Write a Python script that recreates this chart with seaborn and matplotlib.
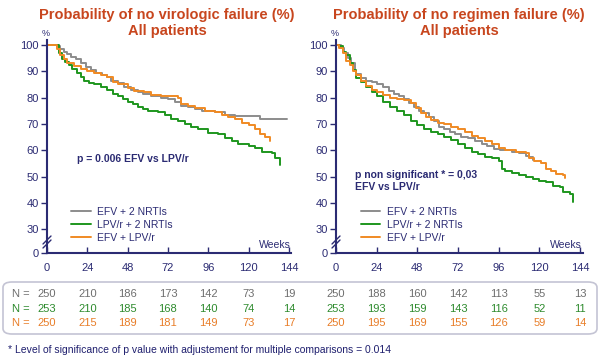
import numpy as np
import pandas as pd
import matplotlib
matplotlib.use('Agg')
import matplotlib.pyplot as plt
import matplotlib.transforms as mtransforms
from matplotlib.patches import FancyBboxPatch
from matplotlib.lines import Line2D
import seaborn as sns

sns.set_theme(style='white')
plt.rcParams['font.family'] = ['Liberation Sans', 'DejaVu Sans']

# Kaplan-Meier step curves (weeks, % surviving)
vir_efv_t = [0, 6, 8, 10, 12, 14, 17, 20, 23, 26, 29, 33, 36, 38, 42, 46, 50, 54, 57, 62, 68, 72, 76, 80, 84, 88, 92, 100, 106, 112, 127, 143]
vir_efv_s = [100, 99.5, 98.5, 97.5, 96.5, 95.5, 94.5, 93, 91.5, 90.5, 89.5, 88.5, 88, 86.5, 85.5, 84, 83, 82, 81.5, 80.5, 80, 79.5, 78.5, 77, 76.5, 75.5, 75, 74.5, 73.5, 73, 72, 72]
vir_lpv_t = [0, 7, 9, 11, 13, 15, 18, 20, 22, 25, 28, 32, 36, 39, 42, 45, 48, 51, 54, 57, 60, 66, 70, 74, 78, 82, 86, 90, 96, 102, 106, 110, 114, 120, 124, 128, 134, 136, 139]
vir_lpv_s = [100, 97, 94.5, 93.5, 92.5, 91, 89.5, 88, 86.5, 85.5, 85, 84, 83, 81.5, 80.5, 79.5, 78.5, 77.5, 76.5, 75.5, 75, 74.5, 73.5, 72, 71, 70, 69, 68, 66.5, 66, 64.5, 63.5, 62.5, 61.5, 61, 59.5, 59, 57, 54.5]
vir_both_t = [0, 6, 8, 10, 12, 16, 20, 24, 28, 32, 36, 39, 42, 48, 52, 58, 62, 68, 78, 80, 84, 88, 94, 100, 104, 108, 112, 116, 120, 124, 127, 130, 133]
vir_both_s = [100, 98.5, 96, 94.5, 93, 92, 91, 90, 89.5, 88.5, 88, 86, 85, 83.5, 82.5, 82, 81, 80.5, 80, 77.5, 77, 76, 75, 74.5, 73.5, 72.5, 72, 70.5, 69.5, 68, 66, 65, 63.5]

reg_efv_t = [0, 3, 5, 7, 9, 11, 12, 15, 18, 21, 24, 28, 31, 34, 37, 40, 43, 46, 49, 52, 55, 58, 61, 64, 67, 70, 74, 78, 82, 86, 89, 93, 97, 104, 108, 112, 114, 116]
reg_efv_s = [100, 99, 97, 95, 93, 90, 89, 87.5, 86.5, 86, 85, 84, 82.5, 81.5, 80.5, 79.5, 78, 76.5, 75, 74, 72.5, 71, 69, 68, 67, 66, 65, 64.5, 63.5, 62.5, 61.5, 60.5, 60, 59.5, 59, 58, 57.5, 56.5]
reg_lpv_t = [0, 2, 4, 6, 8, 10, 12, 15, 18, 21, 24, 28, 32, 36, 40, 44, 48, 52, 56, 60, 64, 68, 72, 76, 80, 84, 88, 92, 96, 98, 100, 104, 108, 112, 116, 120, 124, 128, 132, 134, 138, 140]
reg_lpv_s = [100, 99.5, 97.5, 96, 93, 90.5, 87.5, 86, 84, 82, 80.5, 78.5, 76.5, 75, 73.5, 71, 69.5, 68, 67, 66, 65, 64, 62.5, 61, 59.5, 58.5, 57.5, 57, 56, 53, 52, 51.5, 50.5, 50, 49, 48.5, 48, 46.5, 46, 44, 43.5, 40.5]
reg_both_t = [0, 2, 4, 6, 8, 10, 12, 15, 18, 21, 24, 28, 32, 36, 40, 44, 47, 50, 53, 56, 60, 64, 68, 72, 76, 80, 84, 88, 92, 96, 100, 106, 112, 114, 117, 121, 124, 127, 130, 134, 135]
reg_both_s = [100, 99, 97, 94, 92.5, 90, 88.5, 86.5, 84.5, 83, 82, 81, 80, 79.5, 79, 78, 76, 74, 72.5, 71.5, 70.5, 70, 69, 68, 67, 65.5, 64.5, 63.5, 62.5, 61, 60, 59.5, 59, 57, 56, 55, 53, 52, 51, 50.5, 49.5]

groups = ['EFV + 2 NRTIs', 'LPV/r + 2 NRTIs', 'EFV + LPV/r']
colors = ['#8c8c8c', '#1e961e', '#f08a24']
text_colors = ['#6e6e6e', '#2e8b2e', '#e87d28']

weeks = [0, 24, 48, 72, 96, 120, 144]
n_vir = [[250, 210, 186, 173, 142, 73, 19],
         [253, 210, 185, 168, 140, 74, 14],
         [250, 215, 189, 181, 149, 73, 17]]
n_reg = [[250, 188, 160, 142, 113, 55, 13],
         [253, 193, 159, 143, 116, 52, 11],
         [250, 195, 169, 155, 126, 59, 14]]

titles = [('Probability of no virologic failure (%)', 'All patients'),
          ('Probability of no regimen failure (%)', 'All patients')]

navy = '#2b2b73'
title_col = '#c8461e'

fig = plt.figure(figsize=(6, 3.64), dpi=100)
W, H = 600, 364

def px(x0, y0, w, h):
    return [x0 / W, 1 - (y0 + h) / H, w / W, h / H]

ax1 = fig.add_axes(px(47, 39.7, 244.4, 213.3))
ax2 = fig.add_axes(px(336, 39.7, 246.5, 213.3))

panels = [
    (ax1, [(vir_efv_t, vir_efv_s), (vir_lpv_t, vir_lpv_s), (vir_both_t, vir_both_s)], n_vir, titles[0], 167),
    (ax2, [(reg_efv_t, reg_efv_s), (reg_lpv_t, reg_lpv_s), (reg_both_t, reg_both_s)], n_reg, titles[1], 459),
]

for ax, curves, ntab, title, tx in panels:
    for (t, s), g, c in zip(curves, groups, colors):
        df = pd.DataFrame({'week': t, 'surv': s})
        sns.lineplot(data=df, x='week', y='surv', drawstyle='steps-post', estimator=None,
                     color=c, linewidth=1.4, label=g, ax=ax)
    ax.set_xlim(0, 145.5)
    ax.set_ylim(21, 102)
    ax.set_xticks(weeks)
    ax.set_yticks([21, 30, 40, 50, 60, 70, 80, 90, 100])
    ax.set_yticklabels(['0', '30', '40', '50', '60', '70', '80', '90', '100'])
    ax.set_xlabel('')
    ax.set_ylabel('')
    for sp in ['top', 'right']:
        ax.spines[sp].set_visible(False)
    for sp in ['left', 'bottom']:
        ax.spines[sp].set_color(navy)
        ax.spines[sp].set_linewidth(1.5)
    ax.tick_params(axis='y', direction='out', length=4, width=1, color=navy,
                   labelcolor=navy, labelsize=8, pad=2, left=True)
    ax.tick_params(axis='x', direction='in', length=4, width=1, color=navy,
                   labelcolor=navy, labelsize=8, pad=7.5, bottom=True)
    ax.set_facecolor('none')
    ax.grid(False)

    leg = ax.legend(loc='upper left', bbox_to_anchor=(0.1, 0.218), frameon=False,
                    fontsize=7.5, handlelength=1.9, handletextpad=0.6,
                    labelspacing=0.3, borderpad=0, borderaxespad=0)
    for txt in leg.get_texts():
        txt.set_color(navy)

    ax.text(145, 24.2, 'Weeks', ha='right', va='center', fontsize=7.5, color=navy)
    ax.text(-1, 104.3, '%', ha='center', va='center', fontsize=6.5, color=navy, clip_on=False)

    fig.text(tx / W, 1 - 15 / H, title[0], ha='center', va='center', fontsize=10.5,
             fontweight='bold', color=title_col)
    fig.text(tx / W, 1 - 31 / H, title[1], ha='center', va='center', fontsize=10.5,
             fontweight='bold', color=title_col)

    # numbers at risk under each tick
    trans = mtransforms.blended_transform_factory(ax.transData, fig.transFigure)
    for row, (vals, col) in enumerate(zip(ntab, text_colors)):
        yy = 1 - (294 + row * 14.5) / H
        for w, v in zip(weeks, vals):
            ax.text(w, yy, str(v), transform=trans, ha='center', va='center',
                    fontsize=8, color=col, clip_on=False)

    # axis break marks
    x0 = ax.get_position().x0 * W
    for dy in (0, 4):
        fig.add_artist(Line2D([(x0 - 4) / W, (x0 + 4) / W],
                              [1 - (244 + dy) / H, 1 - (236 + dy) / H],
                              color=navy, linewidth=1, transform=fig.transFigure))

ax1.text(18, 56.7, 'p = 0.006 EFV vs LPV/r', ha='left', va='center', fontsize=7.5,
         fontweight='bold', color=navy)
ax2.text(11, 52.5, 'p non significant * = 0,03\nEFV vs LPV/r', ha='left', va='top',
         fontsize=7.5, fontweight='bold', color=navy, linespacing=1.3)

for row, col in enumerate(text_colors):
    fig.text(12 / W, 1 - (294 + row * 14.5) / H, 'N =', ha='left', va='center',
             fontsize=8, color=col)

box = FancyBboxPatch((3 / W, 1 - 334 / H), 594 / W, 52 / H,
                     boxstyle='round,pad=0,rounding_size=0.015', transform=fig.transFigure,
                     facecolor='none', edgecolor='#c4c4d4', linewidth=1.2, zorder=-1)
fig.patches.append(box)

fig.text(8 / W, 1 - 350 / H,
         '* Level of significance of p value with adjustement for multiple comparisons = 0.014',
         ha='left', va='center', fontsize=7.5, color='#1f1f6e')

fig.savefig('out.png', dpi=100)
